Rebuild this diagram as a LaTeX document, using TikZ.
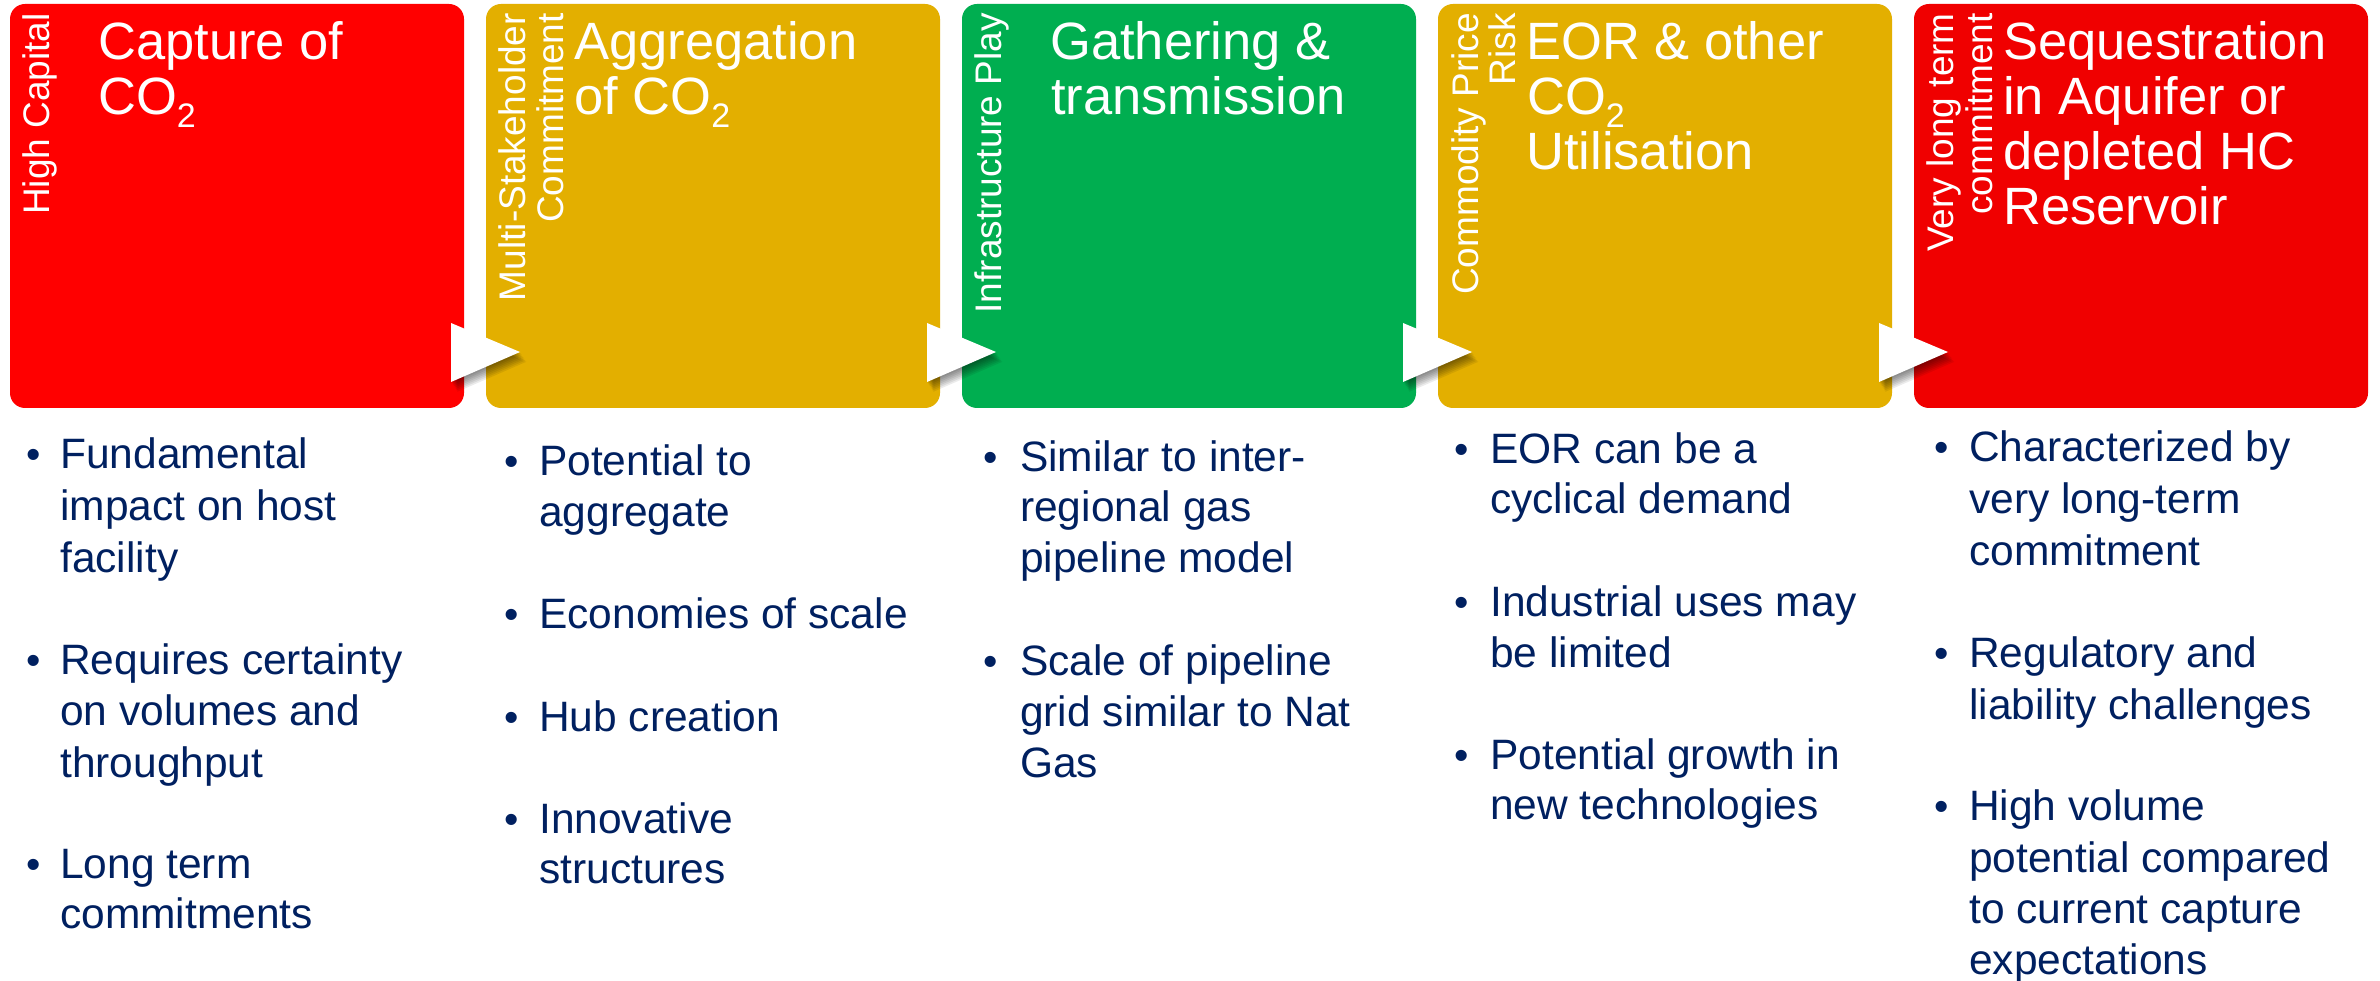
\documentclass[tikz,border=0pt]{standalone}
\usepackage{fontspec}
\setmainfont{Liberation Sans}
\usetikzlibrary{calc}
\definecolor{cred}{HTML}{FF0000}
\definecolor{credb}{HTML}{F00000}
\definecolor{cgold}{HTML}{E3AF00}
\definecolor{cgreen}{HTML}{00AE50}
\definecolor{navy}{HTML}{002060}
\tikzset{
  stagebox/.style={draw=none, rounded corners=15pt, minimum width=454pt, minimum height=404pt, inner sep=0pt, outer sep=0pt},
  vlab/.style={text=white, font=\fontsize{37}{38}\selectfont, rotate=90, anchor=base east, inner sep=0pt, text height=27pt, text depth=7pt},
  ttl/.style={text=white, font=\fontsize{52.5}{55}\selectfont, anchor=base west, inner sep=0pt, text height=40pt, text depth=11pt},
  btxt/.style={text=navy, font=\fontsize{42.5}{51}\selectfont, anchor=base west, inner sep=0pt, text height=31pt, text depth=9pt},
  bdot/.style={text=navy, font=\fontsize{41}{41}\selectfont, anchor=base, inner sep=0pt},
  flowtri/.style={fill=white, draw=none},
  flowshadow/.style={fill=black, opacity=0.08, draw=none}
}
\newcommand{\subtwo}{\raisebox{-13pt}{\fontsize{34}{34}\selectfont 2}}
\begin{document}
\begin{tikzpicture}[x=1pt,y=-1pt]
\useasboundingbox[fill=white] (0,0) rectangle (2380,981);

% stage boxes
\node[stagebox, fill=cred]   (c1) at (237,206) {};
\node[stagebox, fill=cgold]  (c2) at (713,206) {};
\node[stagebox, fill=cgreen] (c3) at (1189,206) {};
\node[stagebox, fill=cgold]  (c4) at (1665,206) {};
\node[stagebox, fill=credb]  (c5) at (2141,206) {};

% flow triangles between boxes
\foreach \a/\b in {c1/c2, c2/c3, c3/c4, c4/c5}{
  \coordinate (\a-tt) at ($(\a.south east)+(-13,-85)$);
  \coordinate (\a-tb) at ($(\a.south east)+(-13,-26)$);
  \coordinate (\a-tp) at ($(\b.south west)+(34,-56)$);
  \foreach \k in {1,...,7}{
    \fill[flowshadow] ($(\a-tt)+(0.9*\k,1.4*\k)$) -- ($(\a-tp)+(0.9*\k,1.4*\k)$) -- ($(\a-tb)+(0.9*\k,1.4*\k)$) -- cycle;
  }
  \fill[flowtri] (\a-tt) -- (\a-tp) -- (\a-tb) -- cycle;
}

% vertical labels
\node[vlab] (v1)  at (49,13)   {High Capital};
\node[vlab] (v2a) at (525,13)  {Multi-Stakeholder};
\node[vlab] (v2b) at (563,13)  {Commitment};
\node[vlab] (v3)  at (1001,13) {Infrastructure Play};
\node[vlab] (v4a) at (1478,13) {Commodity Price};
\node[vlab] (v4b) at (1515,13) {Risk};
\node[vlab] (v5a) at (1953,13) {Very long term};
\node[vlab] (v5b) at (1992,13) {commitment};

% titles
\node[ttl] (t1a) at (98,60)   {Capture of};
\node[ttl] (t1b) at (98,115)  {CO\subtwo};
\node[ttl] (t2a) at (574,60)  {Aggregation};
\node[ttl] (t2b) at (574,115) {of CO\subtwo};
\node[ttl] (t3a) at (1050,60) {Gathering \&};
\node[ttl] (t3b) at (1051,115){transmission};
\node[ttl] (t4a) at (1526,60) {EOR \& other};
\node[ttl] (t4b) at (1527,115){CO\subtwo};
\node[ttl] (t4c) at (1526,170){Utilisation};
\node[ttl] (t5a) at (2003,60) {Sequestration};
\node[ttl] (t5b) at (2003,115){in Aquifer or};
\node[ttl] (t5c) at (2003,170){depleted HC};
\node[ttl] (t5d) at (2003,225){Reservoir};

% column 1 bullets
\node[bdot] (d1a) at (34,468) {\textbullet};
\node[bdot] (d1b) at (34,674) {\textbullet};
\node[bdot] (d1c) at (34,878) {\textbullet};
\node[btxt] (p1a) at (60,468) {Fundamental};
\node[btxt] (p1b) at (60,520) {impact on host};
\node[btxt] (p1c) at (60,572) {facility};
\node[btxt] (p1d) at (60,674) {Requires certainty};
\node[btxt] (p1e) at (60,725) {on volumes and};
\node[btxt] (p1f) at (60,777) {throughput};
\node[btxt] (p1g) at (60,878) {Long term};
\node[btxt] (p1h) at (60,928) {commitments};

% column 2 bullets
\node[bdot] (d2a) at (512,475) {\textbullet};
\node[bdot] (d2b) at (512,628) {\textbullet};
\node[bdot] (d2c) at (512,731) {\textbullet};
\node[bdot] (d2d) at (512,833) {\textbullet};
\node[btxt] (p2a) at (539,475) {Potential to};
\node[btxt] (p2b) at (539,526) {aggregate};
\node[btxt] (p2c) at (539,628) {Economies of scale};
\node[btxt] (p2d) at (539,731) {Hub creation};
\node[btxt] (p2e) at (539,833) {Innovative};
\node[btxt] (p2f) at (539,883) {structures};

% column 3 bullets
\node[bdot] (d3a) at (991,471) {\textbullet};
\node[bdot] (d3b) at (991,675) {\textbullet};
\node[btxt] (p3a) at (1020,471) {Similar to inter-};
\node[btxt] (p3b) at (1020,521) {regional gas};
\node[btxt] (p3c) at (1020,572) {pipeline model};
\node[btxt] (p3d) at (1020,675) {Scale of pipeline};
\node[btxt] (p3e) at (1020,726) {grid similar to Nat};
\node[btxt] (p3f) at (1020,777) {Gas};

% column 4 bullets
\node[bdot] (d4a) at (1462,463) {\textbullet};
\node[bdot] (d4b) at (1462,616) {\textbullet};
\node[bdot] (d4c) at (1462,769) {\textbullet};
\node[btxt] (p4a) at (1490,463) {EOR can be a};
\node[btxt] (p4b) at (1490,513) {cyclical demand};
\node[btxt] (p4c) at (1490,616) {Industrial uses may};
\node[btxt] (p4d) at (1490,667) {be limited};
\node[btxt] (p4e) at (1490,769) {Potential growth in};
\node[btxt] (p4f) at (1490,819) {new technologies};

% column 5 bullets
\node[bdot] (d5a) at (1942,461) {\textbullet};
\node[bdot] (d5b) at (1942,667) {\textbullet};
\node[bdot] (d5c) at (1942,820) {\textbullet};
\node[btxt] (p5a) at (1969,461) {Characterized by};
\node[btxt] (p5b) at (1969,513) {very long-term};
\node[btxt] (p5c) at (1969,565) {commitment};
\node[btxt] (p5d) at (1969,667) {Regulatory and};
\node[btxt] (p5e) at (1969,719) {liability challenges};
\node[btxt] (p5f) at (1969,820) {High volume};
\node[btxt] (p5g) at (1969,872) {potential compared};
\node[btxt] (p5h) at (1969,923) {to current capture};
\node[btxt] (p5i) at (1969,974) {expectations};
\end{tikzpicture}
\end{document}
